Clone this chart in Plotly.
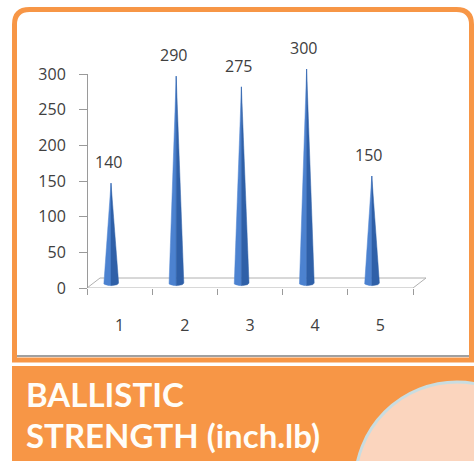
import math
import plotly.graph_objects as go

# ---------------- data ----------------
CATEGORIES = ["1", "2", "3", "4", "5"]
VALUES = [140, 290, 275, 300, 150]
Y_TICKS = [0, 50, 100, 150, 200, 250, 300]
TITLE_LINES = ["BALLISTIC", "STRENGTH (inch.lb)"]

# ---------------- geometry helpers (pixels -> paper) ----------------
W, H = 474, 461


def fx(p):
    return p / W


def fy(p):
    return 1 - p / H


X_SCALE = 65.2      # px per category
X_LEFT_PX = 87      # pixel of x = 0.5 (left end of floor front edge)
Y_ZERO_PX = 288     # pixel of y = 0 on value axis
Y_TOP_PX = 74       # pixel of y = 300
Y_SCALE = (Y_ZERO_PX - Y_TOP_PX) / 300.0
D0, D1 = 30, 455    # x domain in px

x_range = [0.5 - (X_LEFT_PX - D0) / X_SCALE, 0.5 + (D1 - X_LEFT_PX) / X_SCALE]
CONE_SHIFT = 8.6 / X_SCALE           # cones sit slightly left of category centre
x2_range = [x_range[0] + CONE_SHIFT, x_range[1] + CONE_SHIFT]
CONE_BASE_PX = 283
y2_range = [-10, 335]

AXIS_GREY = "#9A9A9A"
TEXT = "#404040"
FONT = "Open Sans"
ORANGE = "#F79646"

fig = go.Figure()

# floor (3D base)
n = len(CATEGORIES)
dx, dy = 13 / X_SCALE, 10 / Y_SCALE
fig.add_trace(go.Scatter(
    x=[0.5, 0.5 + n, 0.5 + n + dx, 0.5 + dx, 0.5],
    y=[0, 0, dy, dy, 0],
    mode="lines", line=dict(color="#B0B0B0", width=1),
    fill="toself", fillcolor="rgba(255,255,255,0)",
    hoverinfo="skip", showlegend=False, xaxis="x", yaxis="y"))

# cones
w = 7.6 / X_SCALE
e = 2.6 / Y_SCALE
for i, v in enumerate(VALUES, start=1):
    # left half
    xl, yl = [i, i - w], [v, 0]
    for k in range(0, 10):
        t = math.pi + k * (math.pi / 2) / 9
        xl.append(i + w * math.cos(t))
        yl.append(e * math.sin(t))
    xl.append(i); yl.append(v)
    fig.add_trace(go.Scatter(x=xl, y=yl, mode="lines", fill="toself",
                             fillcolor="#4C82D0", line=dict(width=0.5, color="#4C82D0"),
                             hoverinfo="skip", showlegend=False, xaxis="x2", yaxis="y2"))
    xr, yr = [i, i], [v, -e]
    for k in range(0, 10):
        t = 1.5 * math.pi + k * (math.pi / 2) / 9
        xr.append(i + w * math.cos(t))
        yr.append(e * math.sin(t))
    xr.append(i); yr.append(v)
    fig.add_trace(go.Scatter(x=xr, y=yr, mode="lines", fill="toself",
                             fillcolor="#2F60A8", line=dict(width=0.5, color="#2F60A8"),
                             hoverinfo="skip", showlegend=False, xaxis="x2", yaxis="y2"))
    fig.add_annotation(x=i, y=v, xref="x2", yref="y2", text=str(v),
                       showarrow=False, yshift=21, xshift=-3,
                       font=dict(family=FONT, size=16, color=TEXT))

# ---------------- shapes ----------------
shapes = []
# banner
shapes.append(dict(type="rect", xref="paper", yref="paper",
                   x0=fx(12), x1=fx(480), y0=fy(366), y1=fy(470),
                   fillcolor=ORANGE, line=dict(width=0), layer="below"))
# circle
shapes.append(dict(type="circle", xref="paper", yref="paper",
                   x0=fx(355), x1=fx(559), y0=fy(382), y1=fy(586),
                   fillcolor="#FBD5BE", line=dict(color="#C9DDE1", width=3), layer="below"))
# frame
L, T, R, B, r = 14.5, 9.5, 471.5, 360, 15
path = (f"M {fx(L)},{fy(B)} L {fx(L)},{fy(T + r)} Q {fx(L)},{fy(T)} {fx(L + r)},{fy(T)} "
        f"L {fx(R - r)},{fy(T)} Q {fx(R)},{fy(T)} {fx(R)},{fy(T + r)} L {fx(R)},{fy(B)} Z")
shapes.append(dict(type="path", xref="paper", yref="paper", path=path,
                   fillcolor="white", line=dict(color=ORANGE, width=5), layer="below"))
shapes.append(dict(type="line", xref="paper", yref="paper",
                   x0=fx(17), x1=fx(469), y0=fy(356), y1=fy(356),
                   line=dict(color="#A0A0A0", width=2), layer="below"))

# title
fig.add_annotation(x=fx(24), y=fy(394), xref="paper", yref="paper", xanchor="left",
                   yanchor="middle", text=f"<b>{TITLE_LINES[0]}</b>", showarrow=False,
                   font=dict(family="Lato", size=33, color="#FFFDF8"))
fig.add_annotation(x=fx(24), y=fy(435), xref="paper", yref="paper", xanchor="left",
                   yanchor="middle", text=f"<b>{TITLE_LINES[1]}</b>", showarrow=False,
                   font=dict(family="Lato", size=33, color="#FFFDF8"))

fig.update_layout(
    width=W, height=H, autosize=False,
    margin=dict(l=0, r=0, t=0, b=0, pad=0, autoexpand=False),
    paper_bgcolor="white", plot_bgcolor="rgba(0,0,0,0)",
    showlegend=False, shapes=shapes,
    xaxis=dict(domain=[fx(D0), fx(D1)], range=x_range, anchor="y", automargin=False,
               tickmode="array", tickvals=list(range(1, n + 1)), ticktext=CATEGORIES,
               ticks="", showline=False, showgrid=False, zeroline=False,
               ticklabelstandoff=26,
               tickfont=dict(family=FONT, size=16, color=TEXT),
               minor=dict(tickmode="array", tickvals=[k + 0.5 for k in range(n + 1)],
                          ticks="outside", ticklen=6, tickcolor=AXIS_GREY, tickwidth=1,
                          showgrid=False)),
    yaxis=dict(domain=[fy(Y_ZERO_PX), fy(Y_TOP_PX)], range=[0, 300], automargin=False,
               anchor="free", position=fx(X_LEFT_PX),
               tickmode="array", tickvals=Y_TICKS,
               ticks="outside", ticklen=8, tickcolor=AXIS_GREY,
               showline=True, linecolor=AXIS_GREY, linewidth=1,
               showgrid=False, zeroline=False, ticklabelstandoff=10,
               tickfont=dict(family=FONT, size=16, color=TEXT)),
    xaxis2=dict(domain=[fx(D0), fx(D1)], range=x2_range, anchor="y2", visible=False,
                automargin=False),
    yaxis2=dict(domain=[fy(CONE_BASE_PX - y2_range[0] * Y_SCALE),
                        fy(CONE_BASE_PX - y2_range[1] * Y_SCALE)],
                range=y2_range, anchor="x2", visible=False, automargin=False),
)

fig.write_html("out.html", config={"displayModeBar": False},
               post_script="document.body.style.margin='0px';document.body.style.overflow='hidden';")
